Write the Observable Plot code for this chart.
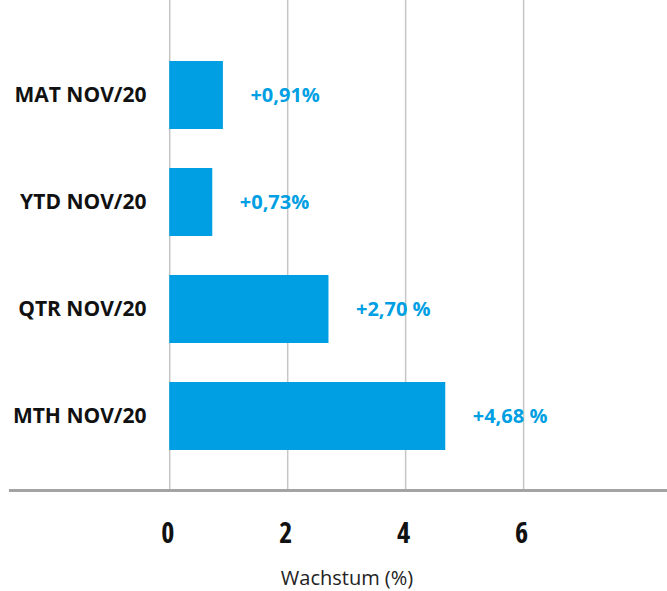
<!DOCTYPE html>
<html>
<head>
<meta charset="utf-8">
<script src="https://cdn.jsdelivr.net/npm/d3@7"></script>
<script src="https://cdn.jsdelivr.net/npm/@observablehq/plot@0.6"></script>
<style>
  html, body { margin: 0; padding: 0; background: #fff; }
  svg { font-family: "Open Sans", sans-serif; }
  svg g[font-size="28"] { font-stretch: 85%; }
</style>
</head>
<body>
<div id="chart"></div>
<script>
const categories = ["MAT NOV/20", "YTD NOV/20", "QTR NOV/20", "MTH NOV/20"];
const values = [0.91, 0.73, 2.70, 4.68];
const valueLabels = ["+0,91%", "+0,73%", "+2,70 %", "+4,68 %"];
const xTicks = [0, 2, 4, 6];
const axisLabel = "Wachstum (%)";

const data = categories.map((c, i) => ({cat: c, value: values[i], label: valueLabels[i]}));
const blue = "#009fe3";

const chart = Plot.plot({
  width: 667,
  height: 591,
  marginTop: 0,
  marginLeft: 10,
  marginRight: 0,
  marginBottom: 101,
  style: {fontFamily: "Open Sans, sans-serif", background: "#fff"},
  x: {domain: [-2.7, 8.44], axis: null},
  y: {domain: categories, axis: null, paddingInner: 0.367, paddingOuter: 0.4625, align: 0.6},
  marks: [
    Plot.ruleX(xTicks, {stroke: "#c6c6c6", strokeWidth: 1.5}),
    Plot.barX(data, {y: "cat", x1: 0, x2: "value", fill: blue}),
    Plot.text(data, {y: "cat", x: "value", text: "label", dx: 27, textAnchor: "start", fill: blue, fontSize: 20, fontWeight: "bold"}),
    Plot.text(data, {y: "cat", text: "cat", frameAnchor: "left", dx: 136, textAnchor: "end", fill: "#111", fontSize: 21, fontWeight: "bold"}),
    Plot.frame({anchor: "bottom", stroke: "#a3a3a3", strokeWidth: 3}),
    Plot.text(xTicks, {x: d => d, text: d => String(d), frameAnchor: "bottom", lineAnchor: "middle", dy: 44, dx: -2, fill: "#111", fontSize: 28, fontWeight: "bold"}),
    Plot.text([axisLabel], {text: d => d, frameAnchor: "bottom", lineAnchor: "middle", dy: 88, dx: 8, fill: "#222", fontSize: 20})
  ]
});
document.getElementById("chart").appendChild(chart);
</script>
</body>
</html>
